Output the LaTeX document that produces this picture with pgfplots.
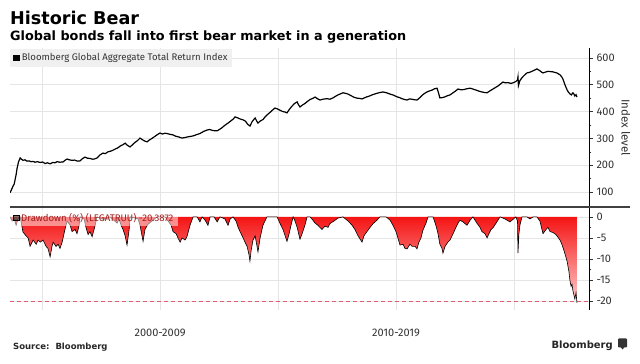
\documentclass[border=0pt]{standalone}
\usepackage{fontspec}
\setmainfont{Fira Sans}
\newfontfamily\dejavu{DejaVu Sans}
\usepackage{pgfplots}
\usepackage{pgfplotstable}
\pgfplotsset{compat=1.18}
\definecolor{ddred}{RGB}{160,30,30}
\definecolor{fillred}{RGB}{245,20,20}
\definecolor{fillpink}{RGB}{255,205,205}
\definecolor{dashpink}{RGB}{222,95,115}
\definecolor{txt}{RGB}{50,50,50}

\pgfplotstableread{
year val
1998.64 97
1998.70 108
1998.77 122
1998.82 130
1998.86 148
1998.90 165
1998.94 188
1999.00 212
1999.07 227
1999.13 222
1999.19 218
1999.27 220
1999.36 215
1999.45 216
1999.53 213
1999.62 214
1999.70 211
1999.80 213
1999.92 210
2000.02 212
2000.13 206
2000.22 209
2000.34 205
2000.45 210
2000.55 209
2000.64 213
2000.75 211
2000.89 212
2000.97 218
2001.06 223
2001.15 220
2001.27 218
2001.38 219
2001.50 215
2001.61 216
2001.72 225
2001.82 230
2001.92 226
2002.03 225
2002.15 222
2002.25 224
2002.33 227
2002.45 238
2002.58 245
2002.68 243
2002.80 250
2002.90 252
2003.01 256
2003.12 261
2003.22 265
2003.32 272
2003.42 276
2003.52 282
2003.60 275
2003.73 268
2003.84 277
2003.94 285
2004.05 292
2004.15 301
2004.25 295
2004.35 290
2004.45 287
2004.55 294
2004.66 300
2004.76 306
2004.87 313
2005.00 320
2005.10 316
2005.20 319
2005.30 318
2005.42 315
2005.55 313
2005.66 308
2005.80 305
2005.93 301
2006.05 303
2006.14 305
2006.27 307
2006.40 309
2006.52 313
2006.69 318
2006.85 326
2006.99 331
2007.10 333
2007.25 329
2007.42 328
2007.53 334
2007.63 340
2007.75 349
2007.88 357
2008.00 365
2008.10 372
2008.18 380
2008.30 376
2008.40 372
2008.52 369
2008.62 364
2008.72 352
2008.81 346
2008.90 362
2009.00 373
2009.03 376
2009.10 364
2009.15 357
2009.25 365
2009.36 370
2009.45 380
2009.53 387
2009.65 396
2009.76 405
2009.87 413
2009.97 410
2010.08 405
2010.20 400
2010.30 398
2010.38 395
2010.48 408
2010.59 420
2010.70 430
2010.81 436
2010.87 425
2010.93 417
2011.03 424
2011.14 430
2011.25 438
2011.36 445
2011.47 449
2011.57 454
2011.67 448
2011.78 443
2011.90 446
2012.08 448
2012.20 446
2012.33 451
2012.44 457
2012.54 462
2012.65 466
2012.75 470
2012.86 468
2012.97 465
2013.08 460
2013.18 455
2013.26 452
2013.35 450
2013.46 449
2013.56 447
2013.66 451
2013.77 455
2013.88 458
2013.98 462
2014.08 465
2014.19 468
2014.32 471
2014.45 473
2014.60 470
2014.75 465
2014.90 461
2015.04 455
2015.15 452
2015.25 448
2015.36 445
2015.47 443
2015.57 447
2015.68 446
2015.78 444
2015.89 443
2016.00 451
2016.10 460
2016.20 467
2016.31 473
2016.42 477
2016.53 480
2016.63 485
2016.74 487
2016.80 470
2016.86 451
2016.97 452
2017.08 455
2017.18 459
2017.29 462
2017.40 469
2017.50 475
2017.63 484
2017.76 481
2017.88 482
2018.00 485
2018.14 487
2018.26 484
2018.39 480
2018.52 476
2018.64 473
2018.75 471
2018.86 470
2018.98 477
2019.11 484
2019.22 490
2019.32 495
2019.43 503
2019.53 510
2019.64 507
2019.75 508
2019.86 505
2019.96 507
2020.08 512
2020.15 518
2020.17 529
2020.19 497
2020.25 515
2020.32 524
2020.38 530
2020.46 537
2020.55 544
2020.65 546
2020.76 550
2020.86 554
2020.97 559
2021.03 556
2021.10 552
2021.17 547
2021.23 544
2021.33 547
2021.44 550
2021.54 549
2021.65 548
2021.73 546
2021.82 544
2021.89 540
2021.95 537
2022.02 530
2022.08 520
2022.16 500
2022.25 481
2022.31 472
2022.37 466
2022.43 462
2022.50 470
2022.54 465
2022.58 458
2022.63 463
2022.67 454
}\idx

\pgfplotstableread{
year dd
1998.64 0
1998.73 -1
1998.81 -0.3
1998.90 -2
1998.98 -0.5
1999.07 0
1999.19 -3.6
1999.32 -4.5
1999.41 -5
1999.49 -7
1999.62 -5.5
1999.75 -6.5
1999.83 -5.5
1999.92 -6
2000.04 -5.5
2000.17 -7
2000.25 -7.5
2000.34 -9.5
2000.42 -7
2000.47 -6
2000.59 -7
2000.68 -6.5
2000.76 -7.5
2000.85 -6
2000.89 -5
2000.97 -3
2001.06 -1
2001.19 -2
2001.27 -3.5
2001.40 -3
2001.48 -4
2001.57 -2
2001.61 0
2001.78 -0.5
2001.86 -2.5
2001.95 -4.2
2002.03 -3.5
2002.12 -4.7
2002.25 -2
2002.33 0
2002.60 -0.6
2002.88 0
2003.18 -1.5
2003.26 -0.5
2003.35 -2
2003.43 -3
2003.52 -4.5
2003.60 -6.7
2003.69 -3
2003.73 0
2004.07 -0.5
2004.15 -2
2004.28 -5.8
2004.36 -3
2004.48 -1.8
2004.66 -1
2004.87 0
2005.21 0
2005.34 -1
2005.47 -2
2005.55 -3.5
2005.68 -4
2005.76 -5
2005.85 -6
2005.93 -5
2006.06 -5.5
2006.14 -4.7
2006.27 -2
2006.40 0
2006.57 0
2006.69 -1.2
2006.78 0
2006.91 -0.8
2007.03 -2
2007.12 0
2007.29 0
2007.42 -1.2
2007.54 0
2007.75 -0.5
2007.88 -2
2007.97 -0.5
2008.09 0
2008.22 -1
2008.31 -2.5
2008.39 -3.5
2008.52 -5
2008.60 -6
2008.69 -7
2008.77 -9
2008.81 -10.5
2008.86 -8
2008.94 -5.5
2009.03 -4.5
2009.11 -7
2009.15 -8.3
2009.24 -5
2009.36 -2
2009.53 0
2009.96 0
2010.08 -1.5
2010.21 -3
2010.30 -4.5
2010.38 -5.8
2010.47 -4
2010.55 -2
2010.64 0
2010.72 -1
2010.81 -2.5
2010.93 -5.3
2011.02 -4
2011.14 -2
2011.23 0
2011.36 0
2011.48 -0.8
2011.57 -1.5
2011.69 -2
2011.86 -3
2011.99 -2.2
2012.12 -2.5
2012.20 -1.6
2012.37 -1
2012.54 -0.3
2012.75 0
2012.97 -1
2013.14 -2
2013.26 -3
2013.39 -4.5
2013.56 -6
2013.64 -4.5
2013.77 -3.5
2013.90 -2.5
2014.03 -1.6
2014.19 -0.8
2014.32 0
2014.58 0
2014.75 -0.8
2014.87 -2
2015.00 -3.5
2015.08 -5
2015.17 -6.7
2015.30 -6.5
2015.38 -7.5
2015.47 -7.6
2015.59 -6.5
2015.68 -7
2015.81 -7
2015.89 -7.6
2015.97 -6
2016.06 -5
2016.14 -3.2
2016.27 -1.5
2016.36 0
2016.57 0
2016.69 -2
2016.78 -4
2016.86 -6.5
2016.95 -7.5
2016.99 -8.6
2017.08 -7
2017.20 -6
2017.29 -5.5
2017.42 -4
2017.54 -2.5
2017.63 -1.5
2017.71 -0.8
2017.84 -1.2
2018.01 -2
2018.14 -0.8
2018.26 0
2018.43 -1.5
2018.56 -2.5
2018.64 -3.5
2018.77 -4
2018.86 -5
2018.94 -4
2019.03 -3
2019.11 -2.6
2019.24 -1.5
2019.41 0
2019.62 -0.5
2019.83 -1.2
2019.96 -0.6
2020.08 0
2020.15 -1
2020.17 -8.6
2020.21 -4
2020.25 -2
2020.34 0
2020.55 0
2020.68 -0.5
2020.81 0
2020.97 0
2021.10 -1
2021.23 -4
2021.36 -3
2021.44 -2.5
2021.53 -3.5
2021.65 -3.7
2021.78 -4.2
2021.86 -4.8
2021.95 -5.5
2022.03 -6.5
2022.12 -8
2022.25 -10.5
2022.33 -13
2022.37 -15
2022.42 -16.5
2022.46 -16
2022.50 -17.6
2022.54 -18.5
2022.58 -19.5
2022.63 -18
2022.67 -20.4
}\dd

\pgfplotsset{
  bbg/.style={
    scale only axis, width=579pt, anchor=south west,
    xmin=1998.64, xmax=2023.18,
    axis y line*=right, axis x line*=bottom,
    x axis line style={draw=none},
    y axis line style={-, black, line width=0.6pt},
    xtick={2000,2005,2010,2015,2020},
    grid=major, major grid style={black!10, line width=0.5pt},
    tick align=outside,
    major tick length=4pt, minor tick length=2.5pt,
    x tick style={draw=none},
    y tick style={black!80, line width=0.5pt},
    minor y tick num=1,
    yticklabel style={font=\fontsize{11}{12}\selectfont, text=txt},
    /pgf/number format/assume math mode=true,
    legend cell align=left,
    legend image code/.code={\fill[black] (0pt,-2.7pt) rectangle (5.4pt,2.7pt);},
  }
}

\begin{document}
\begin{tikzpicture}
\path[fill=white, use as bounding box] (0pt,0pt) rectangle (640pt,364pt);

\begin{axis}[bbg,
  at={(10pt,157pt)}, height=159pt,
  ymin=44, ymax=637,
  ytick={100,200,...,600},
  xticklabels={},
  ylabel={Index level},
  ylabel style={rotate=180, font=\fontsize{11.5}{13}\selectfont, text=txt},
  legend style={at={(0,1)}, anchor=north west, yshift=-1pt,
    fill=black!6, draw=none, inner xsep=3pt, inner ysep=2.5pt,
    font=\fontsize{9.6}{11}\selectfont, text=txt,
    /tikz/every even column/.append style={column sep=2pt}},
]
\addplot[black, line width=1.2pt] table[x=year, y=val]{\idx};
\addlegendentry{Bloomberg Global Aggregate Total Return Index}
\end{axis}

\begin{axis}[bbg,
  at={(10pt,54pt)}, height=102pt,
  ymin=-22.1, ymax=2.1,
  ytick={-20,-15,-10,-5,0},
  yticklabels={-20,-15,-10,-5,0},
  xticklabels={,2000-2009,,2010-2019,},
  xticklabel style={font=\fontsize{11}{13}\selectfont, text=txt, yshift=-11pt},
  legend style={at={(0,1)}, anchor=north west, yshift=-1.5pt,
    fill=white, fill opacity=0.5, text opacity=1, draw=none,
    inner xsep=3pt, inner ysep=1.5pt,
    font=\fontsize{9.6}{11}\selectfont, text=ddred},
]
\addplot[forget plot, draw=none, top color=fillred, bottom color=fillpink]
  table[x=year, y=dd]{\dd} \closedcycle;
\addplot[forget plot, dashpink, line width=0.9pt, dash pattern=on 4pt off 3pt]
  coordinates {(1998.64,-20) (2023.18,-20)};
\addplot[black, line width=0.6pt] table[x=year, y=dd]{\dd};
\addlegendentry{Drawdown (\%) (LEGATRUU) -20.3872}
\end{axis}

\draw[black!75, line width=2pt] (10pt,156.5pt) -- (630pt,156.5pt);

\node[anchor=base west, inner sep=0, font=\dejavu\bfseries\fontsize{17.6}{20}\selectfont] at (10pt,339pt) {Historic Bear};
\node[anchor=base west, inner sep=0, font=\dejavu\bfseries\fontsize{12.8}{15}\selectfont] at (10pt,323.5pt) {Global bonds fall into first bear market in a generation};
\node[anchor=base west, inner sep=0, font=\dejavu\bfseries\fontsize{8.5}{10}\selectfont, text=black!85] at (13pt,14pt) {Source:\ \ Bloomberg};
\node[anchor=base east, inner sep=0, font=\dejavu\bfseries\fontsize{10}{12}\selectfont, text=black!85] at (613pt,15pt) {Bloomberg};
\fill[black!80, rounded corners=0.8pt] (618pt,16.5pt) rectangle (627pt,25.5pt);
\fill[black!80] (620.5pt,17pt) -- (624.5pt,17pt) -- (622.5pt,14.5pt) -- cycle;
\end{tikzpicture}
\end{document}
